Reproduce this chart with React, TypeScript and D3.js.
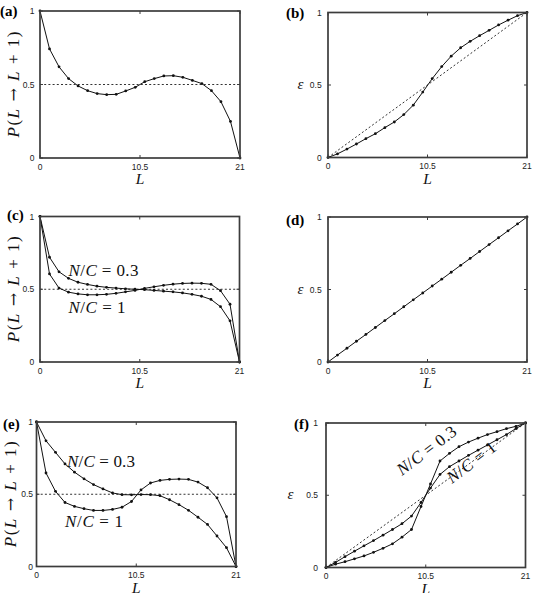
import React from 'react';
import * as d3 from 'd3';

const L_VALUES = [0, 1, 2, 3, 4, 5, 6, 7, 8, 9, 10, 11, 12, 13, 14, 15, 16, 17, 18, 19, 20, 21];
const X_TICKS = [0, 10.5, 21];
const X_TICK_LABELS = ['0', '10.5', '21'];
const Y_TICKS = [0, 0.5, 1];
const Y_TICK_LABELS = ['0', '0.5', '1'];

// (a) P(L -> L+1)
const P_A = [1, 0.742, 0.62, 0.54, 0.49, 0.458, 0.438, 0.431, 0.433, 0.456, 0.481, 0.519, 0.54, 0.558, 0.56, 0.549, 0.528, 0.506, 0.458, 0.383, 0.249, 0];
// (b) epsilon
const EPS_B = [0, 0.025, 0.058, 0.093, 0.13, 0.164, 0.206, 0.245, 0.296, 0.361, 0.451, 0.544, 0.627, 0.699, 0.757, 0.801, 0.84, 0.877, 0.914, 0.947, 0.978, 1];
// (c) two curves
const P_C_03 = [1, 0.72, 0.62, 0.575, 0.548, 0.533, 0.521, 0.513, 0.508, 0.503, 0.5, 0.497, 0.492, 0.487, 0.482, 0.475, 0.465, 0.452, 0.43, 0.38, 0.283, 0];
const P_C_1 = [1, 0.605, 0.508, 0.48, 0.468, 0.462, 0.462, 0.465, 0.472, 0.482, 0.492, 0.506, 0.517, 0.527, 0.535, 0.54, 0.542, 0.541, 0.534, 0.49, 0.397, 0];
// (d) epsilon
const EPS_D = [0, 0.048, 0.095, 0.143, 0.19, 0.238, 0.286, 0.333, 0.381, 0.429, 0.476, 0.524, 0.571, 0.619, 0.667, 0.714, 0.762, 0.81, 0.857, 0.905, 0.952, 1];
// (e) two curves
const P_E_03 = [1, 0.87, 0.79, 0.71, 0.653, 0.607, 0.567, 0.537, 0.509, 0.497, 0.496, 0.498, 0.497, 0.49, 0.462, 0.428, 0.389, 0.341, 0.291, 0.211, 0.13, 0];
const P_E_1 = [1, 0.647, 0.52, 0.443, 0.416, 0.4, 0.388, 0.388, 0.395, 0.41, 0.45, 0.53, 0.578, 0.596, 0.603, 0.605, 0.603, 0.584, 0.545, 0.475, 0.345, 0];
// (f) two curves
const EPS_F_03 = [0, 0.023, 0.04, 0.06, 0.08, 0.105, 0.133, 0.164, 0.21, 0.263, 0.422, 0.578, 0.737, 0.79, 0.836, 0.868, 0.895, 0.92, 0.94, 0.961, 0.977, 1];
const EPS_F_1 = [0, 0.035, 0.075, 0.113, 0.15, 0.186, 0.224, 0.263, 0.303, 0.356, 0.45, 0.55, 0.644, 0.698, 0.737, 0.776, 0.812, 0.848, 0.884, 0.92, 0.962, 1];

const SERIF = '"Liberation Serif", "Times New Roman", serif';
const SANS = '"Liberation Sans", Arial, sans-serif';
const FRAME = '#3c3c3c';
const INK = '#111';

type PanelProps = {
  x0: number; x1: number; y0: number; y1: number;
  series: number[][];
  refLine: 'h' | 'diag' | 'none';
  tag: string; tagX: number; tagY: number;
  kind: 'P' | 'eps';
  yLabelX: number;
  tickGap: number;
  children?: React.ReactNode;
};

function Panel(p: PanelProps) {
  const x = d3.scaleLinear().domain([0, 21]).range([p.x0, p.x1]);
  const y = d3.scaleLinear().domain([0, 1]).range([p.y1, p.y0]);
  const line = d3.line<number>().x((_, i) => x(L_VALUES[i])).y((d) => y(d));
  const cy = (p.y0 + p.y1) / 2;
  const cx = (p.x0 + p.x1) / 2;
  return (
    <g>
      {p.refLine === 'h' && (
        <line x1={x(0)} x2={x(21)} y1={y(0.5)} y2={y(0.5)} stroke="#333" strokeWidth={1} strokeDasharray="2,2.2" />
      )}
      {p.refLine === 'diag' && (
        <line x1={x(0)} x2={x(21)} y1={y(0)} y2={y(1)} stroke="#333" strokeWidth={1} strokeDasharray="2,2.2" />
      )}
      {p.series.map((s, k) => (
        <g key={k}>
          <path d={line(s) || ''} fill="none" stroke={INK} strokeWidth={1} />
          {s.map((v, i) => (
            <circle key={i} cx={x(L_VALUES[i])} cy={y(v)} r={1.4} fill={INK} />
          ))}
        </g>
      ))}
      <rect x={p.x0} y={p.y0} width={p.x1 - p.x0} height={p.y1 - p.y0} fill="none" stroke={FRAME} strokeWidth={1.7} />
      {X_TICKS.map((t, i) => (
        <g key={'xt' + i}>
          <line x1={x(t)} x2={x(t)} y1={p.y1} y2={p.y1 - 3} stroke={FRAME} strokeWidth={1} />
          <line x1={x(t)} x2={x(t)} y1={p.y0} y2={p.y0 + 3} stroke={FRAME} strokeWidth={1} />
          <text x={x(t)} y={p.y1 + 11.5} textAnchor="middle" fontFamily={SANS} fontSize={8.5} fill="#222">{X_TICK_LABELS[i]}</text>
        </g>
      ))}
      {Y_TICKS.map((t, i) => (
        <g key={'yt' + i}>
          <line x1={p.x0} x2={p.x0 + 3} y1={y(t)} y2={y(t)} stroke={FRAME} strokeWidth={1} />
          <line x1={p.x1} x2={p.x1 - 3} y1={y(t)} y2={y(t)} stroke={FRAME} strokeWidth={1} />
          <text x={p.x0 - p.tickGap} y={y(t) + 3} textAnchor="end" fontFamily={SANS} fontSize={8.5} fill="#222">{Y_TICK_LABELS[i]}</text>
        </g>
      ))}
      <text x={cx} y={p.y1 + 26} textAnchor="middle" fontFamily={SERIF} fontStyle="italic" fontSize={15.5} fill={INK}>L</text>
      {p.kind === 'P' ? (
        <text transform={`translate(${p.yLabelX},${cy}) rotate(-90)`} textAnchor="middle" fontFamily={SERIF} fontSize={17} fill={INK} textLength={106} lengthAdjust="spacing">
          <tspan fontStyle="italic">P</tspan>(<tspan fontStyle="italic">L</tspan> <tspan fontFamily='"DejaVu Serif", serif' fontSize={16}>→</tspan> <tspan fontStyle="italic">L</tspan> + 1)
        </text>
      ) : (
        <text x={p.yLabelX} y={cy + 4} textAnchor="middle" fontFamily={SERIF} fontStyle="italic" fontSize={15} fill={INK}>ε</text>
      )}
      <text x={p.tagX} y={p.tagY} fontFamily={SERIF} fontWeight="bold" fontSize={15} fill="#000">{p.tag}</text>
      {p.children}
    </g>
  );
}

function NC({ v }: { v: string }) {
  return (
    <>
      <tspan fontStyle="italic">N</tspan>/<tspan fontStyle="italic">C</tspan> = {v}
    </>
  );
}

export default function App() {
  return (
    <svg width={533} height={593} style={{ position: 'absolute', left: 0, top: 0, background: '#fff' }}>
      <Panel x0={40} x1={240} y0={11} y1={158} series={[P_A]} refLine="h" tag="(a)" tagX={0} tagY={15.5} kind="P" yLabelX={19} tickGap={5.5} />
      <Panel x0={328} x1={527} y0={12.5} y1={157.5} series={[EPS_B]} refLine="diag" tag="(b)" tagX={286} tagY={18} kind="eps" yLabelX={300.5} tickGap={6.3} />
      <Panel x0={40} x1={239.5} y0={216.5} y1={362} series={[P_C_03, P_C_1]} refLine="h" tag="(c)" tagX={7} tagY={220} kind="P" yLabelX={19} tickGap={5.7}>
        <text x={68.5} y={276} fontFamily={SERIF} fontSize={17} fill={INK} textLength={70} lengthAdjust="spacing"><NC v="0.3" /></text>
        <text x={68.5} y={313} fontFamily={SERIF} fontSize={17} fill={INK} textLength={57} lengthAdjust="spacing"><NC v="1" /></text>
      </Panel>
      <Panel x0={328} x1={527} y0={217} y1={362} series={[EPS_D]} refLine="none" tag="(d)" tagX={286} tagY={225} kind="eps" yLabelX={300.5} tickGap={6.3} />
      <Panel x0={36.5} x1={236} y0={422} y1={566.5} series={[P_E_03, P_E_1]} refLine="h" tag="(e)" tagX={3} tagY={429} kind="P" yLabelX={16} tickGap={3.5}>
        <text x={67} y={467} fontFamily={SERIF} fontSize={17} fill={INK} textLength={68} lengthAdjust="spacing"><NC v="0.3" /></text>
        <text x={65} y={527} fontFamily={SERIF} fontSize={17} fill={INK} textLength={58} lengthAdjust="spacing"><NC v="1" /></text>
      </Panel>
      <Panel x0={326} x1={525.5} y0={423} y1={567.5} series={[EPS_F_03, EPS_F_1]} refLine="diag" tag="(f)" tagX={294} tagY={428.5} kind="eps" yLabelX={290.5} tickGap={8}>
        <text transform="translate(402,476) rotate(-37)" fontFamily={SERIF} fontSize={17} fill={INK} textLength={70} lengthAdjust="spacing"><NC v="0.3" /></text>
        <text transform="translate(452,484) rotate(-37)" fontFamily={SERIF} fontSize={17} fill={INK} textLength={57} lengthAdjust="spacing"><NC v="1" /></text>
      </Panel>
    </svg>
  );
}
